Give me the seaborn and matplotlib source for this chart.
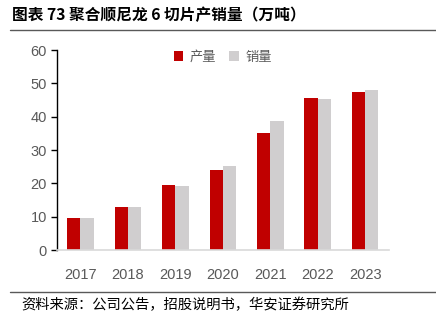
import matplotlib
matplotlib.use("Agg")
import matplotlib.pyplot as plt
import seaborn as sns
import pandas as pd
from matplotlib.lines import Line2D
from matplotlib.patches import Patch

years = ["2017", "2018", "2019", "2020", "2021", "2022", "2023"]
production = [9.7, 13.0, 19.4, 23.9, 35.0, 45.5, 47.3]
sales = [9.7, 13.0, 19.3, 25.2, 38.7, 45.2, 47.9]
series_names = ["产量", "销量"]
colors = ["#C00000", "#D0CECF"]
yticks = [0, 10, 20, 30, 40, 50, 60]

df = pd.DataFrame({
    "year": years * 2,
    "value": production + sales,
    "series": [series_names[0]] * len(years) + [series_names[1]] * len(years),
})

sns.set_theme(style="white")
plt.rcParams["font.family"] = ["Liberation Sans", "Noto Sans CJK SC", "DejaVu Sans"]

fig = plt.figure(figsize=(4.36, 3.23), dpi=100)
ax = fig.add_axes([0.130, 0.226, 0.762, 0.619])

sns.barplot(data=df, x="year", y="value", hue="series", palette=colors,
            width=0.56, ax=ax, legend=False, saturation=1,
            edgecolor="none")

ax.set_xlim(-0.5, 6.5)
ax.set_ylim(0, 60)
ax.set_yticks(yticks)
ax.set_xlabel("")
ax.set_ylabel("")

for s in ["top", "right"]:
    ax.spines[s].set_visible(False)
ax.spines["left"].set_color("black")
ax.spines["left"].set_linewidth(1.0)
ax.spines["bottom"].set_color("#D9D9D9")
ax.spines["bottom"].set_linewidth(1.2)

ax.tick_params(axis="y", which="both", left=True, length=4, width=1.0,
               color="black", labelcolor="#595959", labelsize=10.5, pad=3)
ax.tick_params(axis="x", bottom=False, labelcolor="#595959", labelsize=10.5, pad=7)

handles = [Patch(facecolor=c, edgecolor="none") for c in colors]
leg = ax.legend(handles, series_names, loc="center", bbox_to_anchor=(0.5, 0.965),
                ncol=2, frameon=False, handlelength=0.7, handleheight=0.7,
                handletextpad=0.5, columnspacing=1.0,
                prop={"family": ["Noto Sans CJK SC"], "size": 9.5})
for t in leg.get_texts():
    t.set_color("#595959")

fig.text(12 / 436, 1 - 15 / 323, "图表 73 聚合顺尼龙 6 切片产销量（万吨）",
         fontsize=11.3, fontweight="bold", family=["Noto Sans CJK SC", "DejaVu Sans"],
         ha="left", va="center", color="black")
fig.add_artist(Line2D([10 / 436, 1.0], [1 - 29.5 / 323] * 2, color="#595959", lw=1.0,
                      transform=fig.transFigure))
fig.add_artist(Line2D([10 / 436, 1.0], [1 - 292 / 323] * 2, color="#595959", lw=1.0,
                      transform=fig.transFigure))
fig.text(21 / 436, 1 - 305 / 323, "资料来源：公司公告，招股说明书，华安证券研究所",
         fontsize=10.3, family=["Noto Sans CJK SC", "DejaVu Sans"],
         ha="left", va="center", color="black")

fig.savefig("out.png", dpi=100)
